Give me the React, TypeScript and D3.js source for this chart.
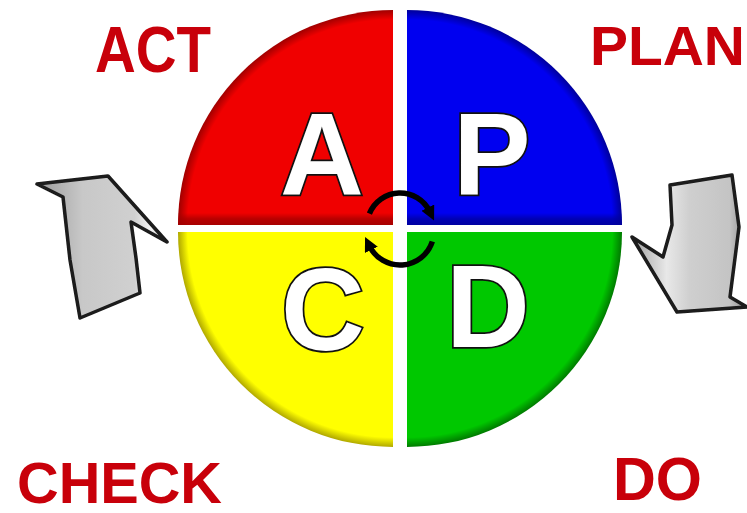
import React from "react";
import * as d3 from "d3";

const W = 747;
const H = 513;

// Quadrants of the PDCA wheel
const letters = ["A", "P", "C", "D"];
const colors = ["#f00000", "#0000f0", "#ffff00", "#00c800"];
const darkColors = ["#a00000", "#00009a", "#b0a800", "#007a00"];
const startAngles = [-90, 0, 180, 90]; // degrees, clockwise from 12 o'clock
const corners: [number, number][] = [[393, 225], [407, 225], [393, 232], [407, 232]];
const letterPos: [number, number][] = [[322, 195], [492, 194], [323, 350], [488, 347]];

// Outer labels
const labels = ["ACT", "PLAN", "CHECK", "DO"];
const labelPos: [number, number][] = [[95, 72], [590, 65], [17, 503], [613, 500]];
const labelSize = [64, 56, 57, 61];
const labelLen = [116, 155, 205, 89];

// Grey cycle arrows (shape outlines)
const leftArrow: [number, number][] = [
  [37, 184], [108, 176], [167, 242], [131, 222], [136, 258], [140, 293],
  [80, 318], [70, 260], [63, 197],
];
const rightArrow: [number, number][] = [
  [670, 185], [732, 175], [739, 227], [730, 297], [747, 307], [677, 312],
  [632, 237], [663, 257], [672, 225],
];

// Small center arrows: [cx, cy, r, startDeg, endDeg]
const centerArcs: [number, number, number, number, number][] = [
  [400, 226, 33, -68, 64],
  [400, 231, 34, 108, 244],
];

export default function App() {
  const R = 215;
  const arc = d3.arc<any>().innerRadius(0).outerRadius(R);
  const line = d3.line().curve(d3.curveLinearClosed);
  const toRad = (d: number) => (d * Math.PI) / 180;

  const arcPath = (cx: number, cy: number, r: number, a0: number, a1: number) => {
    const p = d3.path();
    const t0 = toRad(a0 - 90);
    const t1 = toRad(a1 - 90);
    p.moveTo(cx + r * Math.cos(t0), cy + r * Math.sin(t0));
    p.arc(cx, cy, r, t0, t1, false);
    return p.toString();
  };

  return (
    <svg
      width={W}
      height={H}
      style={{ position: "absolute", left: 0, top: 0, background: "#fff" }}
    >
      <defs>
        <filter id="soft2" x="-10%" y="-10%" width="120%" height="120%">
          <feGaussianBlur stdDeviation="0.6" />
        </filter>
        {colors.map((c, i) => (
          <radialGradient
            key={i}
            id={`rg${i}`}
            gradientUnits="userSpaceOnUse"
            cx={0}
            cy={0}
            r={R}
          >
            <stop offset="0.955" stopColor={c} />
            <stop offset="1" stopColor={darkColors[i]} />
          </radialGradient>
        ))}
        {[0, 1].map((i) => (
          <linearGradient key={i} id={`band${i}`} x1="0" y1="0" x2="0" y2="1">
            <stop offset="0" stopColor={darkColors[i]} stopOpacity={0} />
            <stop offset="0.5" stopColor={darkColors[i]} stopOpacity={0.7} />
            <stop offset="1" stopColor={darkColors[i]} stopOpacity={0.9} />
          </linearGradient>
        ))}
        <linearGradient id="lgArrowL" x1="0" y1="0" x2="1" y2="0">
          <stop offset="0" stopColor="#9a9a9a" />
          <stop offset="0.35" stopColor="#c8c8c8" />
          <stop offset="0.75" stopColor="#d0d0d0" />
          <stop offset="0.88" stopColor="#f4f4f4" />
          <stop offset="1" stopColor="#b0b0b0" />
        </linearGradient>
        <linearGradient id="lgArrowR" x1="0" y1="0" x2="1" y2="0">
          <stop offset="0" stopColor="#a0a0a0" />
          <stop offset="0.3" stopColor="#e8e8e8" />
          <stop offset="0.5" stopColor="#cfcfcf" />
          <stop offset="0.85" stopColor="#c4c4c4" />
          <stop offset="1" stopColor="#8a8a8a" />
        </linearGradient>
        <marker
          id="head"
          viewBox="0 0 10 10"
          refX="3"
          refY="5"
          markerWidth="2.6"
          markerHeight="2.6"
          orient="auto"
          markerUnits="strokeWidth"
        >
          <path d="M0,0 L10,5 L0,10 Z" fill="#000" />
        </marker>
        <clipPath id="clipTop0">
          <path d={arc({ startAngle: toRad(-90), endAngle: 0 }) as string} />
        </clipPath>
        <clipPath id="clipTop1">
          <path d={arc({ startAngle: 0, endAngle: toRad(90) }) as string} />
        </clipPath>
      </defs>

      <rect width={W} height={H} fill="#fff" />

      {/* wheel quadrants */}
      {letters.map((l, i) => (
        <g key={l} transform={`translate(${corners[i][0]},${corners[i][1]})`}>
          <path
            d={arc({ startAngle: toRad(startAngles[i]), endAngle: toRad(startAngles[i] + 90) }) as string}
            fill={`url(#rg${i})`}
          />
          {i < 2 && (
            <rect
              x={i === 0 ? -R : 0}
              y={-12}
              width={R}
              height={12}
              fill={`url(#band${i})`}
              clipPath={`url(#clipTop${i})`}
            />
          )}
        </g>
      ))}

      {/* quadrant letters */}
      {letters.map((l, i) => (
        <text
          key={l}
          x={letterPos[i][0]}
          y={letterPos[i][1]}
          textAnchor="middle"
          fontFamily="'Liberation Sans', Arial, sans-serif"
          fontWeight="bold"
          fontSize={116}
          fill="#fff"
          stroke="#111"
          strokeWidth={3.5}
          paintOrder="stroke"
        >
          {l}
        </text>
      ))}

      {/* small center cycle arrows */}
      {centerArcs.map((a, i) => (
        <path
          key={i}
          d={arcPath(a[0], a[1], a[2], a[3], a[4])}
          fill="none"
          stroke="#000"
          strokeWidth={5.5}
          markerEnd="url(#head)"
        />
      ))}

      {/* grey arrows */}
      <path
        d={line(leftArrow) as string}
        fill="url(#lgArrowL)"
        stroke="#1a1a1a"
        strokeWidth={3.5}
        strokeLinejoin="round"
        filter="url(#soft2)"
      />
      <path
        d={line(rightArrow) as string}
        fill="url(#lgArrowR)"
        stroke="#1a1a1a"
        strokeWidth={3.5}
        strokeLinejoin="round"
        filter="url(#soft2)"
      />

      {/* outer labels */}
      {labels.map((t, i) => (
        <text
          key={t}
          x={labelPos[i][0]}
          y={labelPos[i][1]}
          fontFamily="'Liberation Sans', Arial, sans-serif"
          fontWeight="bold"
          fontSize={labelSize[i]}
          fill="#c8000a"
          textLength={labelLen[i]}
          lengthAdjust="spacingAndGlyphs"
        >
          {t}
        </text>
      ))}
    </svg>
  );
}
